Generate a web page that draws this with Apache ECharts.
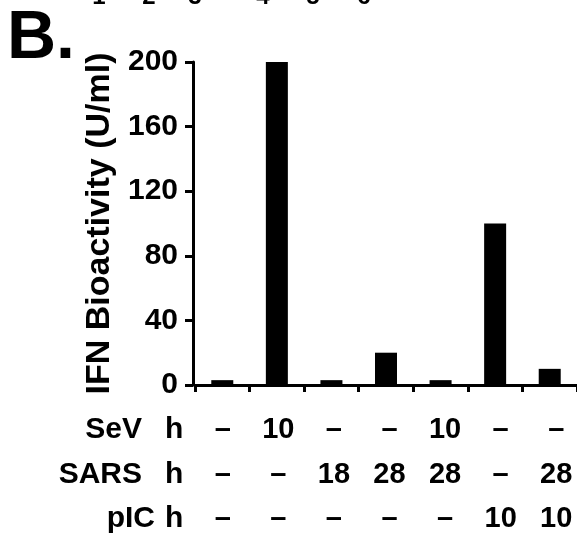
<!DOCTYPE html>
<html>
<head>
<meta charset="utf-8">
<script src="https://cdn.jsdelivr.net/npm/echarts@6/dist/echarts.min.js"></script>
<style>
html,body{margin:0;padding:0;background:#fff;}
#c{width:577px;height:540px;}
</style>
</head>
<body>
<div id="c"></div>
<script>
// ---- data ----
const categories = ['1', '2', '3', '4', '5', '6', '7'];
const ifnValues = [3, 200, 3, 20, 3, 100, 10];
const yTicks = [0, 40, 80, 120, 160, 200];
const sevRow = ['–', '10', '–', '–', '10', '–', '–'];
const sarsRow = ['–', '–', '18', '28', '28', '–', '28'];
const picRow = ['–', '–', '–', '–', '–', '10', '10'];
const rowNames = ['SeV', 'SARS', 'pIC'];
const rowUnit = 'h';
const topLabels = ['1', '2', '3', '4', '5', '6'];
const panelLabel = 'B.';
const yName = 'IFN Bioactivity (U/ml)';

const FF = '"Liberation Sans", Arial, sans-serif';
const chart = echarts.init(document.getElementById('c'));

const topX = [99, 149, 195, 263, 313, 364];
const rowMid = [430, 475, 519];
const graphics = [
  { type: 'text', x: 7, y: 39, style: { text: panelLabel, font: 'bold 68px ' + FF, fill: '#000', verticalAlign: 'middle', align: 'left' } }
];
topLabels.forEach((t, i) => graphics.push({ type: 'text', x: topX[i], y: -3, style: { text: t, font: 'bold 24px ' + FF, fill: '#000', align: 'center', verticalAlign: 'middle' } }));
const nameRight = [142, 142, 155];
rowNames.forEach((n, i) => {
  graphics.push({ type: 'text', x: nameRight[i], y: rowMid[i], style: { text: n, font: 'bold 30px ' + FF, fill: '#000', align: 'right', verticalAlign: 'middle' } });
  graphics.push({ type: 'text', x: 165, y: rowMid[i], style: { text: rowUnit, font: 'bold 30px ' + FF, fill: '#000', align: 'left', verticalAlign: 'middle' } });
});

chart.setOption({
  animation: false,
  backgroundColor: '#fff',
  grid: [
    { left: 195, right: 0, top: 62, bottom: 155, outerBoundsMode: 'none', containLabel: false },
    { left: 195, right: -7, top: 62, bottom: 155, outerBoundsMode: 'none', containLabel: false }
  ],
  xAxis: [
    {
      type: 'category', gridIndex: 0, data: categories,
      axisLine: { lineStyle: { color: '#000', width: 3 } },
      axisTick: { show: true, length: 7, lineStyle: { color: '#000', width: 3 }, alignWithLabel: false },
      axisLabel: { show: false }
    },
    {
      type: 'category', gridIndex: 1, data: categories, position: 'bottom', offset: 0,
      axisLine: { show: false, onZero: false }, axisTick: { show: false },
      axisLabel: {
        margin: 23, color: '#000', fontFamily: FF, fontWeight: 'bold', fontSize: 29, lineHeight: 44.5,
        verticalAlign: 'top',
        formatter: (v, i) => sevRow[i] + '\n' + sarsRow[i] + '\n' + picRow[i]
      }
    }
  ],
  yAxis: [
    {
      type: 'value', gridIndex: 0, min: 0, max: 200, interval: 40, offset: 2,
      name: yName, nameLocation: 'middle', nameGap: 74, nameRotate: 90,
      nameTextStyle: { color: '#000', fontFamily: FF, fontWeight: 'bold', fontSize: 34 },
      axisLine: { show: true, lineStyle: { color: '#000', width: 3 } },
      axisTick: { show: true, length: 8, lineStyle: { color: '#000', width: 3 } },
      axisLabel: { margin: 15, color: '#000', fontFamily: FF, fontWeight: 'bold', fontSize: 30,
        formatter: v => yTicks.includes(v) ? String(v) : '' },
      splitLine: { show: false }
    },
    { type: 'value', gridIndex: 1, show: false, min: 0, max: 200 }
  ],
  series: [
    { type: 'bar', xAxisIndex: 0, yAxisIndex: 0, data: ifnValues, barWidth: 22, itemStyle: { color: '#000' } }
  ],
  graphic: graphics
});
</script>
</body>
</html>
